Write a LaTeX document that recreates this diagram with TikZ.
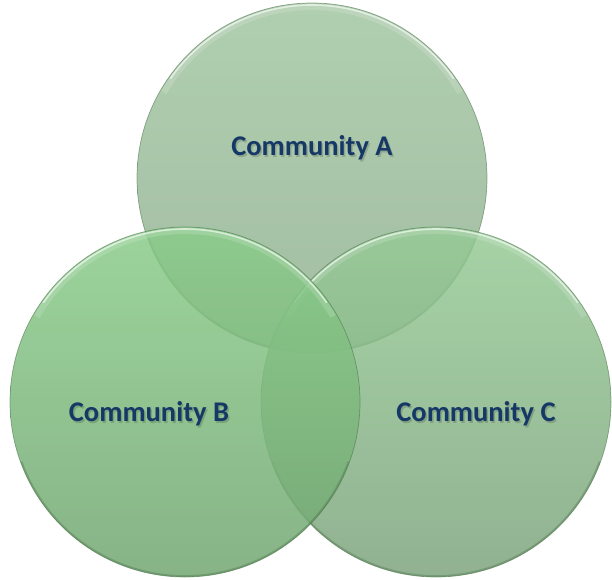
\documentclass[tikz,border=0pt]{standalone}
\usepackage{fontspec}
\setmainfont{Carlito}
\definecolor{aTop}{RGB}{162,198,162}
\definecolor{aBot}{RGB}{147,177,147}
\definecolor{bTop}{RGB}{138,204,138}
\definecolor{bBot}{RGB}{114,166,114}
\definecolor{cTop}{RGB}{150,203,150}
\definecolor{cBot}{RGB}{126,164,126}
\definecolor{rim}{RGB}{70,110,70}
\definecolor{labelblue}{RGB}{22,56,102}
\begin{document}
\begin{tikzpicture}[x=1pt,y=1pt,
  bubble/.style={circle, minimum size=350pt, inner sep=0pt, fill opacity=0.85,
    draw=rim, draw opacity=0.55, line width=0.7pt},
  gloss/.style={white, line width=1.6pt, opacity=0.6},
  glow/.style={white, line width=6pt, opacity=0.15},
  shadowrim/.style={rim, line width=1.8pt, opacity=0.35},
  lbl/.style={anchor=base, font=\fontsize{28.5}{30}\selectfont\bfseries, text=labelblue},
  lblshadow/.style={anchor=base, font=\fontsize{28.5}{30}\selectfont\bfseries, text=black, text opacity=0.16}
]
\useasboundingbox (0,0) rectangle (612,579);

% the three community circles, back to front
\node[bubble, top color=aTop, bottom color=aBot] (A) at (312,401) {};
\draw[shadowrim] ([shift={(200:174pt)}]A.center) arc[start angle=200, end angle=340, radius=174pt];
\draw[glow] ([shift={(30:171pt)}]A.center) arc[start angle=30, end angle=150, radius=171pt];
\draw[gloss] ([shift={(35:173pt)}]A.center) arc[start angle=35, end angle=145, radius=173pt];

\node[bubble, top color=cTop, bottom color=cBot] (C) at (436,177) {};
\draw[shadowrim] ([shift={(200:174pt)}]C.center) arc[start angle=200, end angle=340, radius=174pt];
\draw[glow] ([shift={(30:171pt)}]C.center) arc[start angle=30, end angle=150, radius=171pt];
\draw[gloss] ([shift={(35:173pt)}]C.center) arc[start angle=35, end angle=145, radius=173pt];

\node[bubble, top color=bTop, bottom color=bBot] (B) at (185,177) {};
\draw[shadowrim] ([shift={(200:174pt)}]B.center) arc[start angle=200, end angle=340, radius=174pt];
\draw[glow] ([shift={(30:171pt)}]B.center) arc[start angle=30, end angle=150, radius=171pt];
\draw[gloss] ([shift={(35:173pt)}]B.center) arc[start angle=35, end angle=145, radius=173pt];

% labels with a soft drop shadow
\node[lblshadow] (sa) at (313.5,421.5) {Community A};
\node[lblshadow] (sb) at (150.5,156) {Community B};
\node[lblshadow] (sc) at (477.5,156) {Community C};
\node[lbl] (la) at (312,423) {Community A};
\node[lbl] (lb) at (149,157.5) {Community B};
\node[lbl] (lc) at (476,157.5) {Community C};
\end{tikzpicture}
\end{document}
